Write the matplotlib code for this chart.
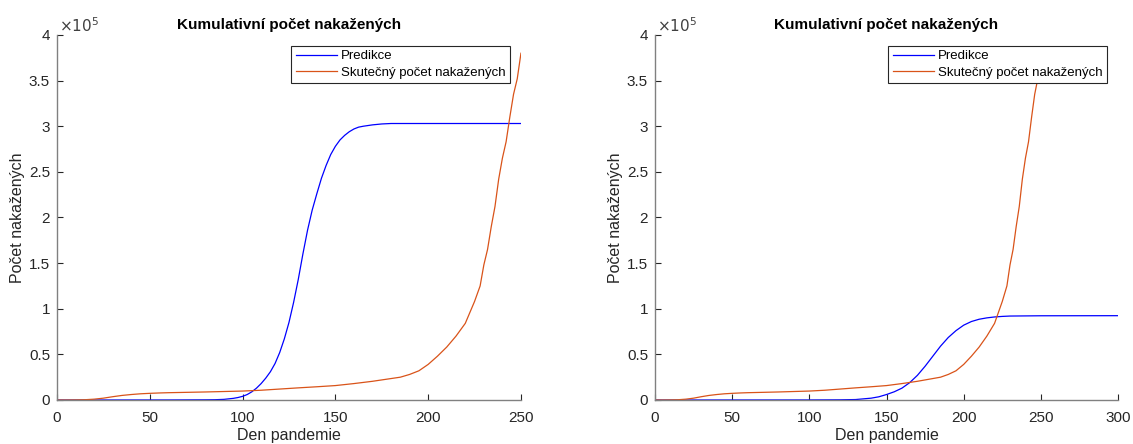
import matplotlib.pyplot as plt
from matplotlib.ticker import FuncFormatter

plt.rcParams['font.family'] = ['Liberation Sans', 'DejaVu Sans']

real_days = [0, 5, 10, 15, 20, 25, 30, 35, 40, 45, 50, 55, 60, 70, 80, 90, 100, 110, 120, 130,
             140, 150, 160, 170, 175, 180, 185, 190, 195, 200, 205, 210, 215, 220, 225, 228,
             230, 232, 234, 236, 238, 240, 242, 244, 246, 248, 250]
real_vals = [0, 0, 100, 300, 900, 2000, 3600, 5000, 6000, 6800, 7300, 7700, 8000, 8400, 8800,
             9300, 9800, 10700, 12000, 13300, 14500, 15800, 18000, 20500, 22000, 23500, 25000,
             28000, 32000, 39000, 48000, 58000, 70000, 84000, 108000, 125000, 148000, 165000,
             190000, 212000, 242000, 265000, 283000, 310000, 335000, 352000, 380000]

# prediction, left model (days 0-250)
pred1_days = [0, 60, 80, 85, 90, 95, 97.5, 100, 102.5, 105, 107.5, 110, 112.5, 115, 117.5,
              120, 122.5, 125, 127.5, 130, 132.5, 135, 137.5, 140, 142.5, 145, 147.5, 150,
              152.5, 155, 157.5, 160, 162.5, 165, 170, 175, 180, 200, 250]
pred1_vals = [0, 50, 200, 300, 700, 1800, 2700, 4000, 6000, 9000, 13000, 18000, 24000, 31000,
              40000, 52000, 67000, 85000, 107000, 132000, 160000, 186000, 208000, 226000,
              243000, 257000, 269000, 278000, 285000, 290000, 294000, 297000, 299000, 300000,
              301500, 302500, 303000, 303000, 303000]

# prediction, right model (days 0-300)
pred2_days = [0, 100, 120, 130, 140, 145, 150, 155, 160, 165, 170, 175, 180, 185, 190, 195,
              200, 205, 210, 215, 220, 225, 230, 250, 300]
pred2_vals = [0, 50, 200, 500, 2000, 3500, 6000, 9000, 13000, 19000, 27000, 37000, 48000,
              59000, 68500, 76000, 82000, 86000, 88500, 90000, 91000, 91600, 92000, 92300, 92400]

title = 'Kumulativní počet nakažených'
yticks = [0, 50000, 100000, 150000, 200000, 250000, 300000, 350000, 400000]

fig = plt.figure(figsize=(11.33, 4.44), dpi=100)
ax1 = fig.add_axes([0.0503, 0.0991, 0.4095, 0.8221])
ax2 = fig.add_axes([0.5781, 0.0991, 0.4087, 0.8221])

for ax, pd_, pv, xmax, xt in [(ax1, pred1_days, pred1_vals, 250, range(0, 251, 50)),
                              (ax2, pred2_days, pred2_vals, 300, range(0, 301, 50))]:
    ax.plot(pd_, pv, color='#0000ff', lw=0.9, label='Predikce')
    ax.plot(real_days, real_vals, color='#d95319', lw=0.9, label='Skutečný počet nakažených')
    ax.set_xlim(0, xmax)
    ax.set_ylim(0, 400000)
    ax.set_xticks(list(xt))
    ax.set_yticks(yticks)
    ax.yaxis.set_major_formatter(FuncFormatter(lambda v, p: '%g' % (v / 1e5)))
    for s in ['top', 'right']:
        ax.spines[s].set_visible(False)
    for s in ['left', 'bottom']:
        ax.spines[s].set_color('#808080')
        ax.spines[s].set_linewidth(1)
    ax.tick_params(direction='in', length=4, width=0.8, color='#262626',
                   labelcolor='#262626', labelsize=11)
    ax.tick_params(axis='x', pad=8)
    ax.tick_params(axis='y', pad=5)
    ax.set_title(title, fontsize=11, fontweight='bold', pad=4)
    ax.set_xlabel('Den pandemie', fontsize=11.5, color='#262626', labelpad=2)
    ax.set_ylabel('Počet nakažených', fontsize=11.5, color='#262626', labelpad=3)
    ax.text(0.004, 1.0, r'$\times10^5$', transform=ax.transAxes, fontsize=11,
            color='#404040', va='bottom', ha='left')
    leg = ax.legend(loc='upper right', fontsize=9.5, frameon=True, fancybox=False,
                    handlelength=3.1, handletextpad=0.35, borderpad=0.35, labelspacing=0.3,
                    borderaxespad=0.8)
    leg.get_frame().set_edgecolor('#262626')
    leg.get_frame().set_linewidth(0.8)
    leg.get_frame().set_alpha(1)

fig.savefig('out.png', dpi=100)
